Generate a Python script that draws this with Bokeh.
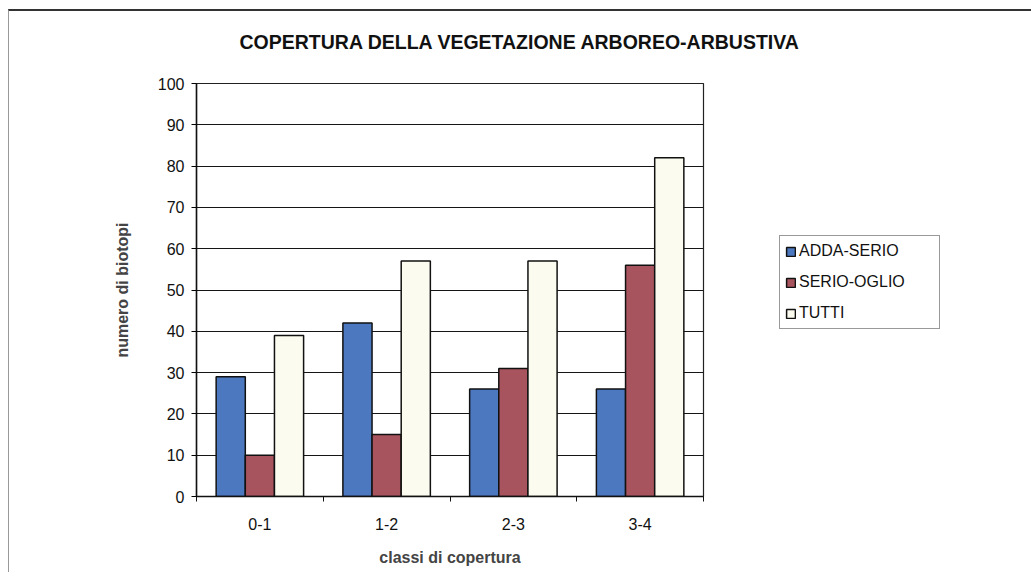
from bokeh.plotting import figure
from bokeh.models import (ColumnDataSource, FixedTicker, Legend, LegendItem, Title, Range1d)
from bokeh.embed import file_html
from bokeh.resources import INLINE

categories = ["0-1", "1-2", "2-3", "3-4"]
series_names = ["ADDA-SERIO", "SERIO-OGLIO", "TUTTI"]
adda_serio = [29, 42, 26, 26]
serio_oglio = [10, 15, 31, 56]
tutti = [39, 57, 57, 82]
y_ticks = [0, 10, 20, 30, 40, 50, 60, 70, 80, 90, 100]

colors = ["#4C78C0", "#A8545E", "#FBFBEF"]
FONT = "Liberation Sans"

xs = list(range(len(categories)))
p = figure(frame_width=507, frame_height=413, output_backend="svg", toolbar_location=None,
           x_range=Range1d(-0.5, len(categories) - 0.5), y_range=Range1d(0, 100),
           min_border_left=187, min_border_right=0, min_border_top=72,
           min_border_bottom=76)
p.background_fill_color = "white"
p.border_fill_color = "white"
p.outline_line_color = "#222222"
p.outline_line_width = 1.2
p.styles = {"border-top": "2px solid #333333", "border-left": "1px solid #999999",
            "margin-top": "9px", "margin-left": "8px"}

bw = 0.23
renderers = []
for i, (vals, col) in enumerate(zip([adda_serio, serio_oglio, tutti], colors)):
    src = ColumnDataSource(dict(x=[x + (i - 1) * bw for x in xs], top=vals))
    r = p.vbar(x="x", top="top", bottom=0, width=bw, source=src,
               fill_color=col, line_color="#111111", line_width=1.5)
    renderers.append(r)

# grid
p.xgrid.visible = False
p.ygrid.ticker = FixedTicker(ticks=y_ticks)
p.ygrid.grid_line_color = "#151515"
p.ygrid.grid_line_width = 1.2

# y axis
p.yaxis.ticker = FixedTicker(ticks=y_ticks)
p.yaxis.axis_label = "numero di biotopi"
p.yaxis.axis_label_text_font = FONT
p.yaxis.axis_label_text_font_style = "bold"
p.yaxis.axis_label_text_font_size = "16px"
p.yaxis.axis_label_standoff = 24
p.yaxis.major_label_text_font = FONT
p.yaxis.major_label_text_font_size = "16px"
p.yaxis.major_label_text_color = "#111111"
p.yaxis.major_tick_in = 0
p.yaxis.major_tick_out = 5
p.yaxis.minor_tick_line_color = None
p.yaxis.major_label_standoff = 7
p.yaxis.axis_line_color = "#111111"
p.yaxis.axis_line_width = 1.5

# x axis
p.xaxis.ticker = FixedTicker(ticks=xs, minor_ticks=[x - 0.5 for x in xs] + [xs[-1] + 0.5])
p.xaxis.major_label_overrides = {x: c for x, c in zip(xs, categories)}
p.xaxis.major_tick_line_color = None
p.xaxis.major_tick_out = 0
p.xaxis.major_tick_in = 0
p.xaxis.minor_tick_in = 0
p.xaxis.minor_tick_out = 5
p.xaxis.minor_tick_line_color = "#111111"
p.xaxis.major_label_standoff = 16
p.xaxis.major_label_text_font = FONT
p.xaxis.major_label_text_font_size = "16px"
p.xaxis.major_label_text_color = "#111111"
p.xaxis.axis_label = "classi di copertura"
p.xaxis.axis_label_text_font = FONT
p.xaxis.axis_label_text_font_style = "bold"
p.xaxis.axis_label_text_font_size = "16px"
p.xaxis.axis_label_standoff = 16
p.xaxis.axis_line_color = "#111111"
p.xaxis.axis_line_width = 1.5

# legend
legend = Legend(items=[LegendItem(label=n, renderers=[r]) for n, r in zip(series_names, renderers)],
                location=(76, 167))
legend.label_text_font = FONT
legend.label_text_font_size = "16px"
legend.label_text_color = "#111111"
legend.glyph_width = 11
legend.glyph_height = 11
legend.label_standoff = 3
legend.label_width = 135
legend.label_height = 20
legend.spacing = 11
legend.padding = 5
legend.margin = 0
legend.border_line_color = "#333333"
legend.border_line_width = 1.2
legend.background_fill_alpha = 1
p.add_layout(legend, "right")

# title
title = Title(text="COPERTURA DELLA VEGETAZIONE ARBOREO-ARBUSTIVA\n", align="left",
              vertical_align="top", offset=43, standoff=14, text_font=FONT,
              text_font_style="bold", text_font_size="19.5px", text_color="#111111")
p.add_layout(title, "above")

open("out.html", "w").write(file_html(p, INLINE))
